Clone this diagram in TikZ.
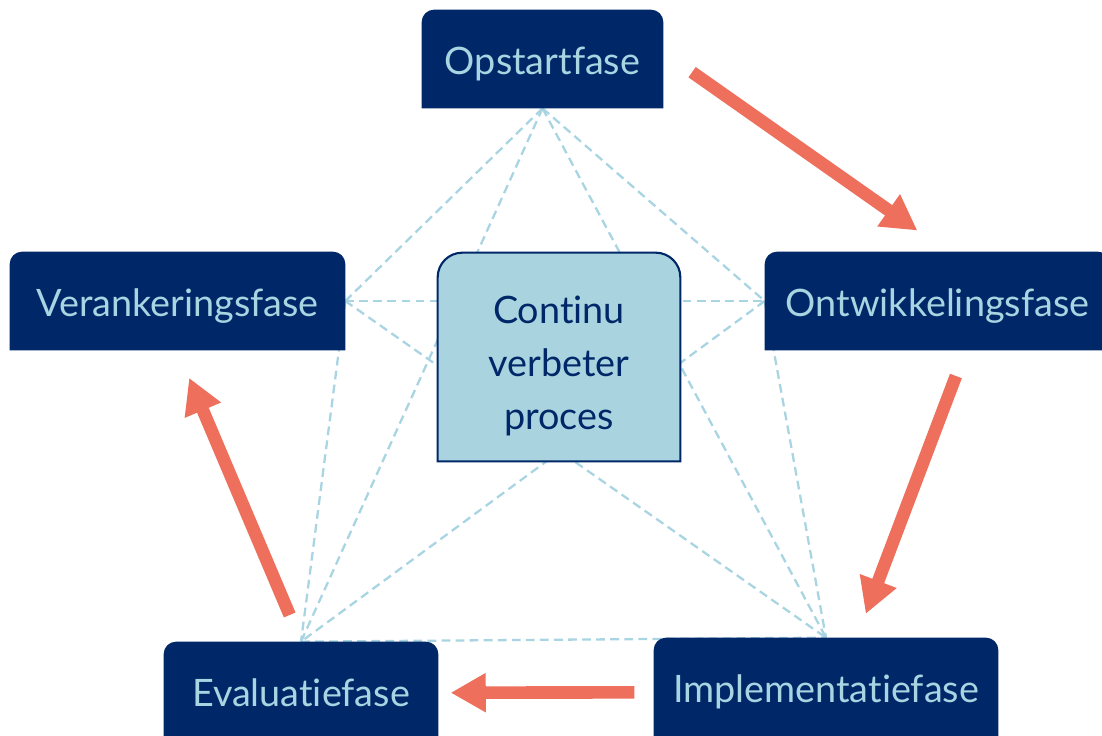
\documentclass[tikz,border=0pt]{standalone}
\usepackage{fontspec}
\setmainfont{Lato}[Ligatures=NoCommon]
\usetikzlibrary{arrows.meta}
\definecolor{navy}{HTML}{002868}
\definecolor{paleblue}{HTML}{A9D4E2}
\definecolor{corefill}{HTML}{AAD3E0}
\definecolor{salmon}{HTML}{EE6F5C}
\pgfdeclarelayer{lines}
\pgfdeclarelayer{boxes}
\pgfsetlayers{lines,boxes,main}
\tikzset{
  phase/.style = {rectangle, minimum height=1.96cm, inner sep=0pt,
                  text height=22pt, text depth=4pt,
                  text=paleblue, font=\fontsize{21.5}{25}\selectfont},
  core/.style  = {rectangle, minimum width=4.84cm, minimum height=4.16cm, inner sep=0pt},
  coretext/.style = {align=center, text=navy, font=\fontsize{21.5}{30}\selectfont},
  link/.style  = {draw=paleblue, line width=1.3pt, dash pattern=on 5pt off 3pt},
  flow/.style  = {-{Triangle[length=20pt,width=21pt]}, draw=salmon, line width=7.2pt},
}

\begin{document}
\begin{tikzpicture}[x=0.02cm, y=-0.02cm]
      \useasboundingbox (0,0) rectangle (1102,735);

      \node[phase, minimum width=4.82cm] (opstart) at (542.5, 59)  {Opstartfase};
      \node[phase, minimum width=6.7cm]  (veran)   at (177.5, 301) {Verankeringsfase};
      \node[phase, minimum width=6.9cm]  (ontw)    at (937.5, 301) {Ontwikkelingsfase};
      \node[phase, minimum width=5.48cm] (eval)    at (301, 691)   {Evaluatiefase};
      \node[phase, minimum width=6.88cm] (impl)    at (826, 687)   {Implementatiefase};
      \node[core] (core) at (559, 357) {};
      \node[coretext] (coretxt) at (559, 366) {Continu\\verbeter\\proces};

      % box shapes, rounded on top only
      \begin{pgfonlayer}{boxes}
        \foreach \n in {opstart,veran,ontw,eval,impl}
          \fill[navy] (\n.south west) [rounded corners=7pt] -- (\n.north west)
            -- (\n.north east) [sharp corners] -- (\n.south east) -- cycle;
        \filldraw[fill=corefill, draw=navy, line width=1.2pt]
          (core.south west) [rounded corners=14pt] -- (core.north west)
          -- (core.north east) [sharp corners] -- (core.south east) -- cycle;
      \end{pgfonlayer}

      % dashed star and pentagon
      \begin{pgfonlayer}{lines}
        \draw[link] (opstart.south) -- (veran.east);
        \draw[link] (opstart.south) -- (ontw.west);
        \draw[link] (opstart.south) -- (eval.north);
        \draw[link] (opstart.south) -- (impl.north);
        \draw[link] (veran.east) -- (ontw.west);
        \draw[link] (veran.east) -- (eval.north);
        \draw[link] (veran.east) -- (impl.north);
        \draw[link] (ontw.west) -- (impl.north);
        \draw[link] (ontw.west) -- (eval.north);
        \draw[link] (eval.north) -- (impl.north);
      \end{pgfonlayer}

      \draw[flow, shorten <=20pt, shorten >=14pt]
        ([yshift=4pt]opstart.east) -- ([yshift=4pt]ontw.north);
      \draw[flow, shorten <=15.6pt, shorten >=14.5pt]
        ([xshift=16pt]ontw.south) -- ([xshift=17.5pt]impl.north);
      \draw[flow, shorten <=11pt, shorten >=7pt]
        ([yshift=-3pt]impl.west) -- ([yshift=-1pt]eval.east);
      \draw[flow, shorten <=16.5pt, shorten >=17pt] (eval.north) -- (veran.south);
    \end{tikzpicture}
\end{document}
